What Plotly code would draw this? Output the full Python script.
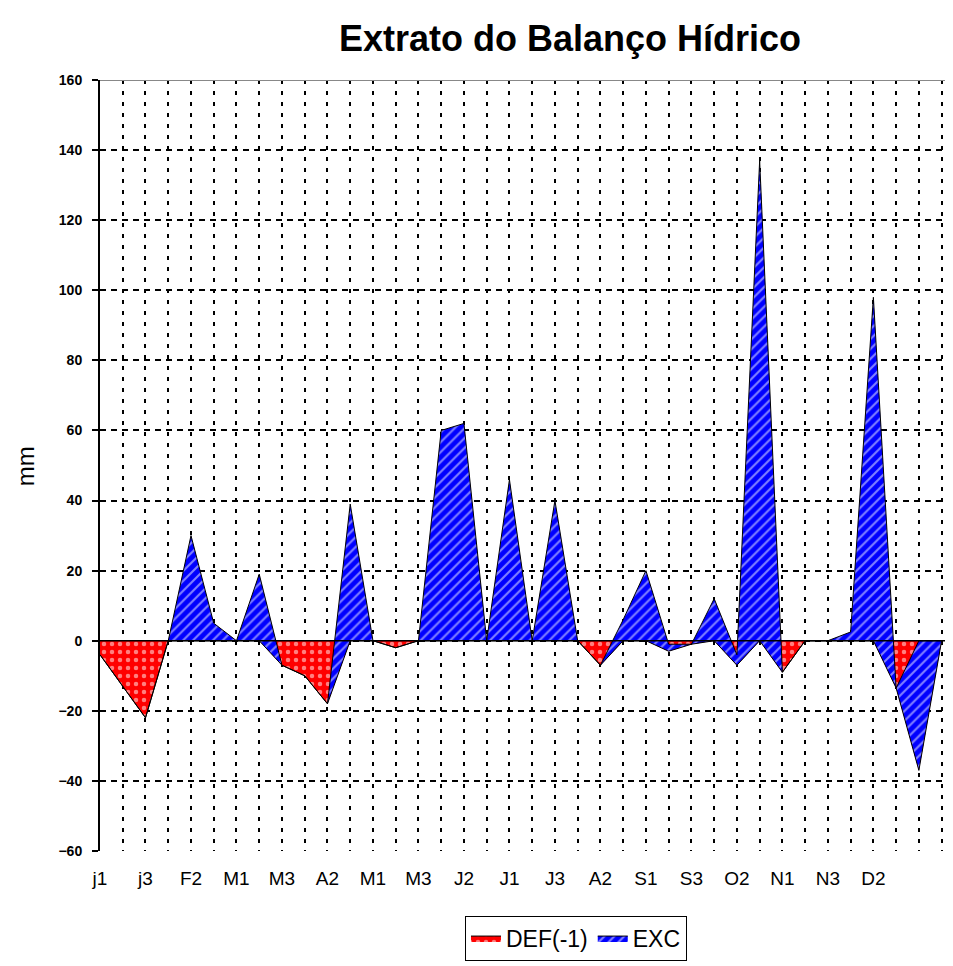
import plotly.graph_objects as go

# decendial categories (tick labels shown every other category)
categories = ["j1", "j2", "j3", "F1", "F2", "F3", "M1", "M2", "M3", "A1", "A2", "A3",
              "M1", "M2", "M3", "J1", "J2", "J3", "J1", "J2", "J3", "A1", "A2", "A3",
              "S1", "S2", "S3", "O1", "O2", "O3", "N1", "N2", "N3", "D1", "D2", "D3",
              "", ""]

# stacked area values (mm)
DEF = [-4, -13, -22, 0, 0, 0, 0, 0, -7, -10, -18, 0,
       0, -2, 0, 0, 0, 0, 0, 0, 0, 0, -7, 0,
       0, -3, -1, 0, -7, 0, -9, 0, 0, 0, 0, -13.5,
       -37, 0]
EXC = [0, 0, 0, 0, 30, 5, 0, 19, 0, 0, 0, 39,
       0, 0, 0, 60, 62, 0, 46, 0, 40, 0, 0, 6,
       20, 2, 0, 12, 3, 137, 0, 0, 0, 2.5, 98, 0,
       37, 0]

y_ticks = [-60, -40, -20, 0, 20, 40, 60, 80, 100, 120, 140, 160]

x = list(range(len(categories)))
tick_text = [c if i % 2 == 0 else "" for i, c in enumerate(categories)]

FONT = "Liberation Sans, Arial, sans-serif"
NARROW = "Liberation Sans Narrow, Arial Narrow, Liberation Sans, sans-serif"
W, H = 945, 958  # page body has an 8px margin

fig = go.Figure()
fig.add_trace(go.Scatter(
    x=x, y=DEF, name="DEF(-1)", stackgroup="one", mode="lines",
    line=dict(color="black", width=1),
    fillcolor="#FF0000",
    fillpattern=dict(shape=".", bgcolor="#FF0000", fgcolor="white", size=8, solidity=0.25),
))
fig.add_trace(go.Scatter(
    x=x, y=EXC, name="EXC", stackgroup="one", mode="lines",
    line=dict(color="black", width=1),
    fillcolor="#0000FF",
    fillpattern=dict(shape="/", bgcolor="#0000FF", fgcolor="white", size=7, solidity=0.3),
))

# zero (category) axis line drawn above the areas
fig.add_shape(type="line", xref="paper", yref="y", x0=0, x1=1, y0=0, y1=0,
              line=dict(color="black", width=1.5), layer="above")
# top border of the plot area
fig.add_shape(type="line", xref="paper", yref="y", x0=0, x1=1, y0=160, y1=160,
              line=dict(color="#888888", width=2), layer="above")

fig.add_annotation(text="mm", xref="paper", yref="paper", x=-0.088, y=0.499,
                   textangle=-90, showarrow=False, xanchor="center", yanchor="middle",
                   font=dict(family=FONT, size=24, color="black"))

fig.update_layout(
    width=W, height=H,
    margin=dict(l=92, r=0, t=72, b=115),
    paper_bgcolor="white", plot_bgcolor="white",
    title=dict(text="<b>Extrato do Balanço Hídrico</b>", x=562 / W, xanchor="center",
               y=1 - 30 / H, yanchor="middle",
               font=dict(family=FONT, size=36, color="black")),
    showlegend=True,
    legend=dict(orientation="h", x=0.558, xanchor="center", y=-0.113, yanchor="middle",
                bordercolor="black", borderwidth=1, bgcolor="white",
                font=dict(family=NARROW, size=23, color="black"),
                itemwidth=30, traceorder="normal"),
    xaxis=dict(
        range=[0, 37.5], tickmode="array", tickvals=x, ticktext=tick_text,
        showgrid=True, gridcolor="black", gridwidth=2, griddash="4px,7px",
        showline=False, zeroline=False, ticks="", ticklabelstandoff=14,
        tickfont=dict(family=NARROW, size=19, color="black"),
    ),
    yaxis=dict(
        range=[-60, 160], tickmode="array", tickvals=y_ticks,
        showgrid=True, gridcolor="black", gridwidth=2, griddash="6px,5px",
        showline=True, linecolor="black", linewidth=2,
        zeroline=False, ticks="outside", ticklen=6, tickcolor="black", tickwidth=1.5,
        ticklabelstandoff=7,
        tickfont=dict(family=FONT, size=14, color="black", weight="bold"),
    ),
)

fig.write_html("out.html")
